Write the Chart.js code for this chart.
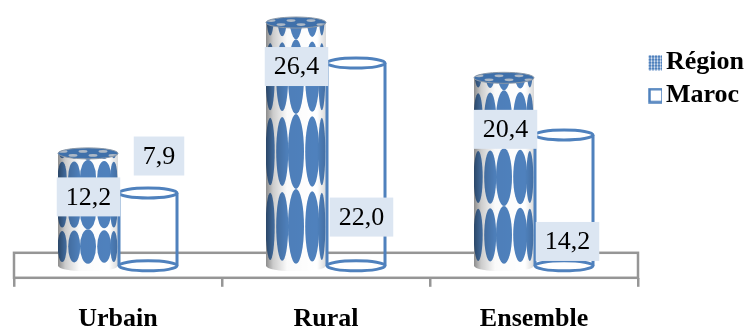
<!DOCTYPE html>
<html>
<head>
<meta charset="utf-8">
<style>
  html, body { margin: 0; padding: 0; background: #fff; }
</style>
<script src="https://cdn.jsdelivr.net/npm/chart.js@4"></script>
</head>
<body>
<canvas id="chart" width="749" height="327"></canvas>
<script>
const categories = ['Urbain', 'Rural', 'Ensemble'];
const regionValues = [12.2, 26.4, 20.4];
const marocValues = [7.9, 22.0, 14.2];

const BLUE = '#4f81bd';
const GRAY = '#969696';
const LABEL_BG = '#dce6f2';
const SERIF = '"Liberation Serif", serif';

// labels were moved by hand in the original, offset from the top of each bar
const regionLabelOffsets = [[0.5, 43.5], [0.5, 44], [1.5, 51.5]];
const marocLabelOffsets = [[11, -37], [5.5, 154], [3.5, 106.5]];

// ellipse columns on the region cylinder: position, half width, half height (of a row)
const ovalColumns = [[0.07, 4.5, 0.45], [0.27, 6, 0.46], [0.5, 8, 0.5], [0.77, 7, 0.47], [0.93, 3.5, 0.45]];
const ROWS = 3.25;
const RY = 5.5;

function regionIcon() {
  const c = document.createElement('canvas');
  c.width = 26; c.height = 16;
  const g = c.getContext('2d');
  g.fillStyle = BLUE;
  for (let i = 0; i < 5; i++) {
    for (let j = 0; j < 5; j++) {
      g.beginPath();
      g.ellipse(14 + i * 3, 2 + j * 3, 1.5, 1.5, 0, 0, Math.PI * 2);
      g.fill();
    }
  }
  return c;
}

function marocIcon() {
  const c = document.createElement('canvas');
  c.width = 26; c.height = 16;
  const g = c.getContext('2d');
  g.strokeStyle = BLUE;
  g.lineWidth = 2.5;
  g.strokeRect(13.5, 1.5, 13, 13);
  return c;
}

function drawRegionBar(ctx, bar) {
  const w = bar.width, left = bar.x - w / 2, right = bar.x + w / 2;
  const top = bar.y, base = bar.base, h = base - top;
  const rowH = h / ROWS;

  ctx.save();
  ctx.beginPath();
  ctx.moveTo(left, top);
  ctx.lineTo(left, base);
  ctx.ellipse(bar.x, base, w / 2, RY, 0, Math.PI, 0, true);
  ctx.lineTo(right, top);
  ctx.closePath();
  ctx.clip();
  ctx.fillStyle = '#fff';
  ctx.fillRect(left, top, w, h + RY);

  ctx.fillStyle = BLUE;
  for (let r = 0; r < 4; r++) {
    const cy = base - 2 - rowH * (r + 0.5);
    ovalColumns.forEach(col => {
      ctx.beginPath();
      ctx.ellipse(left + col[0] * w, cy, col[1], rowH * col[2], 0, 0, Math.PI * 2);
      ctx.fill();
    });
  }

  // cylinder shading
  const grad = ctx.createLinearGradient(left, 0, right, 0);
  grad.addColorStop(0, 'rgba(0,0,0,0.45)');
  grad.addColorStop(0.12, 'rgba(0,0,0,0.2)');
  grad.addColorStop(0.35, 'rgba(0,0,0,0.02)');
  grad.addColorStop(0.85, 'rgba(0,0,0,0)');
  grad.addColorStop(1, 'rgba(0,0,0,0.15)');
  ctx.fillStyle = grad;
  ctx.fillRect(left, top, w, h + RY);
  ctx.restore();

  // top face
  ctx.save();
  ctx.beginPath();
  ctx.ellipse(bar.x, top, w / 2, RY, 0, 0, Math.PI * 2);
  ctx.clip();
  ctx.fillStyle = '#3f70aa';
  ctx.fillRect(left, top - RY, w, RY * 2);
  ctx.fillStyle = '#aeb9c6';
  [-20, 0, 20].forEach(dx => {
    [-2, 2].forEach(dy => {
      ctx.beginPath();
      ctx.ellipse(bar.x + dx + dy * 2.5, top + dy, 4.5, 1.4, 0, 0, Math.PI * 2);
      ctx.fill();
    });
  });
  ctx.restore();
  ctx.strokeStyle = '#8a98a8';
  ctx.lineWidth = 1;
  ctx.beginPath();
  ctx.ellipse(bar.x, top, w / 2, RY, 0, 0, Math.PI * 2);
  ctx.stroke();
}

function drawMarocBar(ctx, bar) {
  const w = bar.width - 2, left = bar.x - w / 2, right = bar.x + w / 2;
  ctx.save();
  ctx.strokeStyle = BLUE;
  ctx.lineWidth = 3;
  ctx.beginPath();
  ctx.moveTo(left, bar.y);
  ctx.lineTo(left, bar.base);
  ctx.moveTo(right, bar.y);
  ctx.lineTo(right, bar.base);
  ctx.stroke();
  [bar.y, bar.base].forEach(cy => {
    ctx.beginPath();
    ctx.ellipse(bar.x, cy, w / 2, RY - 0.5, 0, 0, Math.PI * 2);
    ctx.fillStyle = '#fff';
    ctx.fill();
    ctx.stroke();
  });
  ctx.restore();
}

function drawLabel(ctx, bar, value, offset) {
  const text = value.toFixed(1).replace('.', ',');
  ctx.save();
  ctx.font = '26px ' + SERIF;
  ctx.textAlign = 'center';
  ctx.textBaseline = 'middle';
  const boxW = ctx.measureText(text).width + 18;
  const cx = bar.x + offset[0], cy = bar.y + offset[1];
  ctx.fillStyle = LABEL_BG;
  ctx.fillRect(cx - boxW / 2, cy - 19.5, boxW, 39);
  ctx.fillStyle = '#000';
  ctx.fillText(text, cx, cy + 1);
  ctx.restore();
}

const cylinders = {
  id: 'cylinders',
  beforeDatasetsDraw(chart) {
    const ctx = chart.ctx, area = chart.chartArea;
    // the flat floor of the 3D chart
    ctx.save();
    ctx.strokeStyle = GRAY;
    ctx.lineWidth = 2.5;
    ctx.strokeRect(area.left, area.bottom - 25, area.right - area.left, 25);
    ctx.restore();
  },
  afterDatasetsDraw(chart) {
    const ctx = chart.ctx;
    const regionBars = chart.getDatasetMeta(0).data;
    const marocBars = chart.getDatasetMeta(1).data;
    regionBars.forEach(b => drawRegionBar(ctx, b));
    marocBars.forEach(b => drawMarocBar(ctx, b));
    regionBars.forEach((b, i) => drawLabel(ctx, b, regionValues[i], regionLabelOffsets[i]));
    marocBars.forEach((b, i) => drawLabel(ctx, b, marocValues[i], marocLabelOffsets[i]));
  }
};

new Chart(document.getElementById('chart'), {
  type: 'bar',
  data: {
    labels: categories,
    datasets: [
      { label: 'Région', data: regionValues, backgroundColor: 'transparent', pointStyle: regionIcon() },
      { label: 'Maroc', data: marocValues, backgroundColor: 'transparent', pointStyle: marocIcon() }
    ]
  },
  plugins: [cylinders],
  options: {
    responsive: false,
    animation: false,
    layout: { padding: { left: 14, top: 17, right: -5, bottom: -25 } },
    datasets: { bar: { categoryPercentage: 0.577, barPercentage: 1 } },
    plugins: {
      tooltip: { enabled: false },
      legend: {
        position: 'right',
        align: 'start',
        title: { display: true, text: ' ', padding: 2, font: { size: 18 } },
        labels: {
          usePointStyle: true,
          pointStyleWidth: 8,
          padding: 7,
          color: '#000',
          font: { family: SERIF, size: 26, weight: 'bold' },
          generateLabels(chart) {
            return chart.data.datasets.map((ds, i) => ({
              text: ds.label, pointStyle: ds.pointStyle, datasetIndex: i,
              fontColor: '#000', lineWidth: 0, hidden: false
            }));
          }
        }
      }
    },
    scales: {
      x: {
        grid: { drawOnChartArea: false, drawTicks: true, tickLength: 9, color: GRAY, lineWidth: 2.5 },
        border: { display: false },
        ticks: { color: '#000', padding: 17, maxRotation: 0, font: { family: SERIF, size: 26, weight: 'bold' } }
      },
      y: { display: false, min: -1.3, max: 27 }
    }
  }
});
</script>
</body>
</html>
